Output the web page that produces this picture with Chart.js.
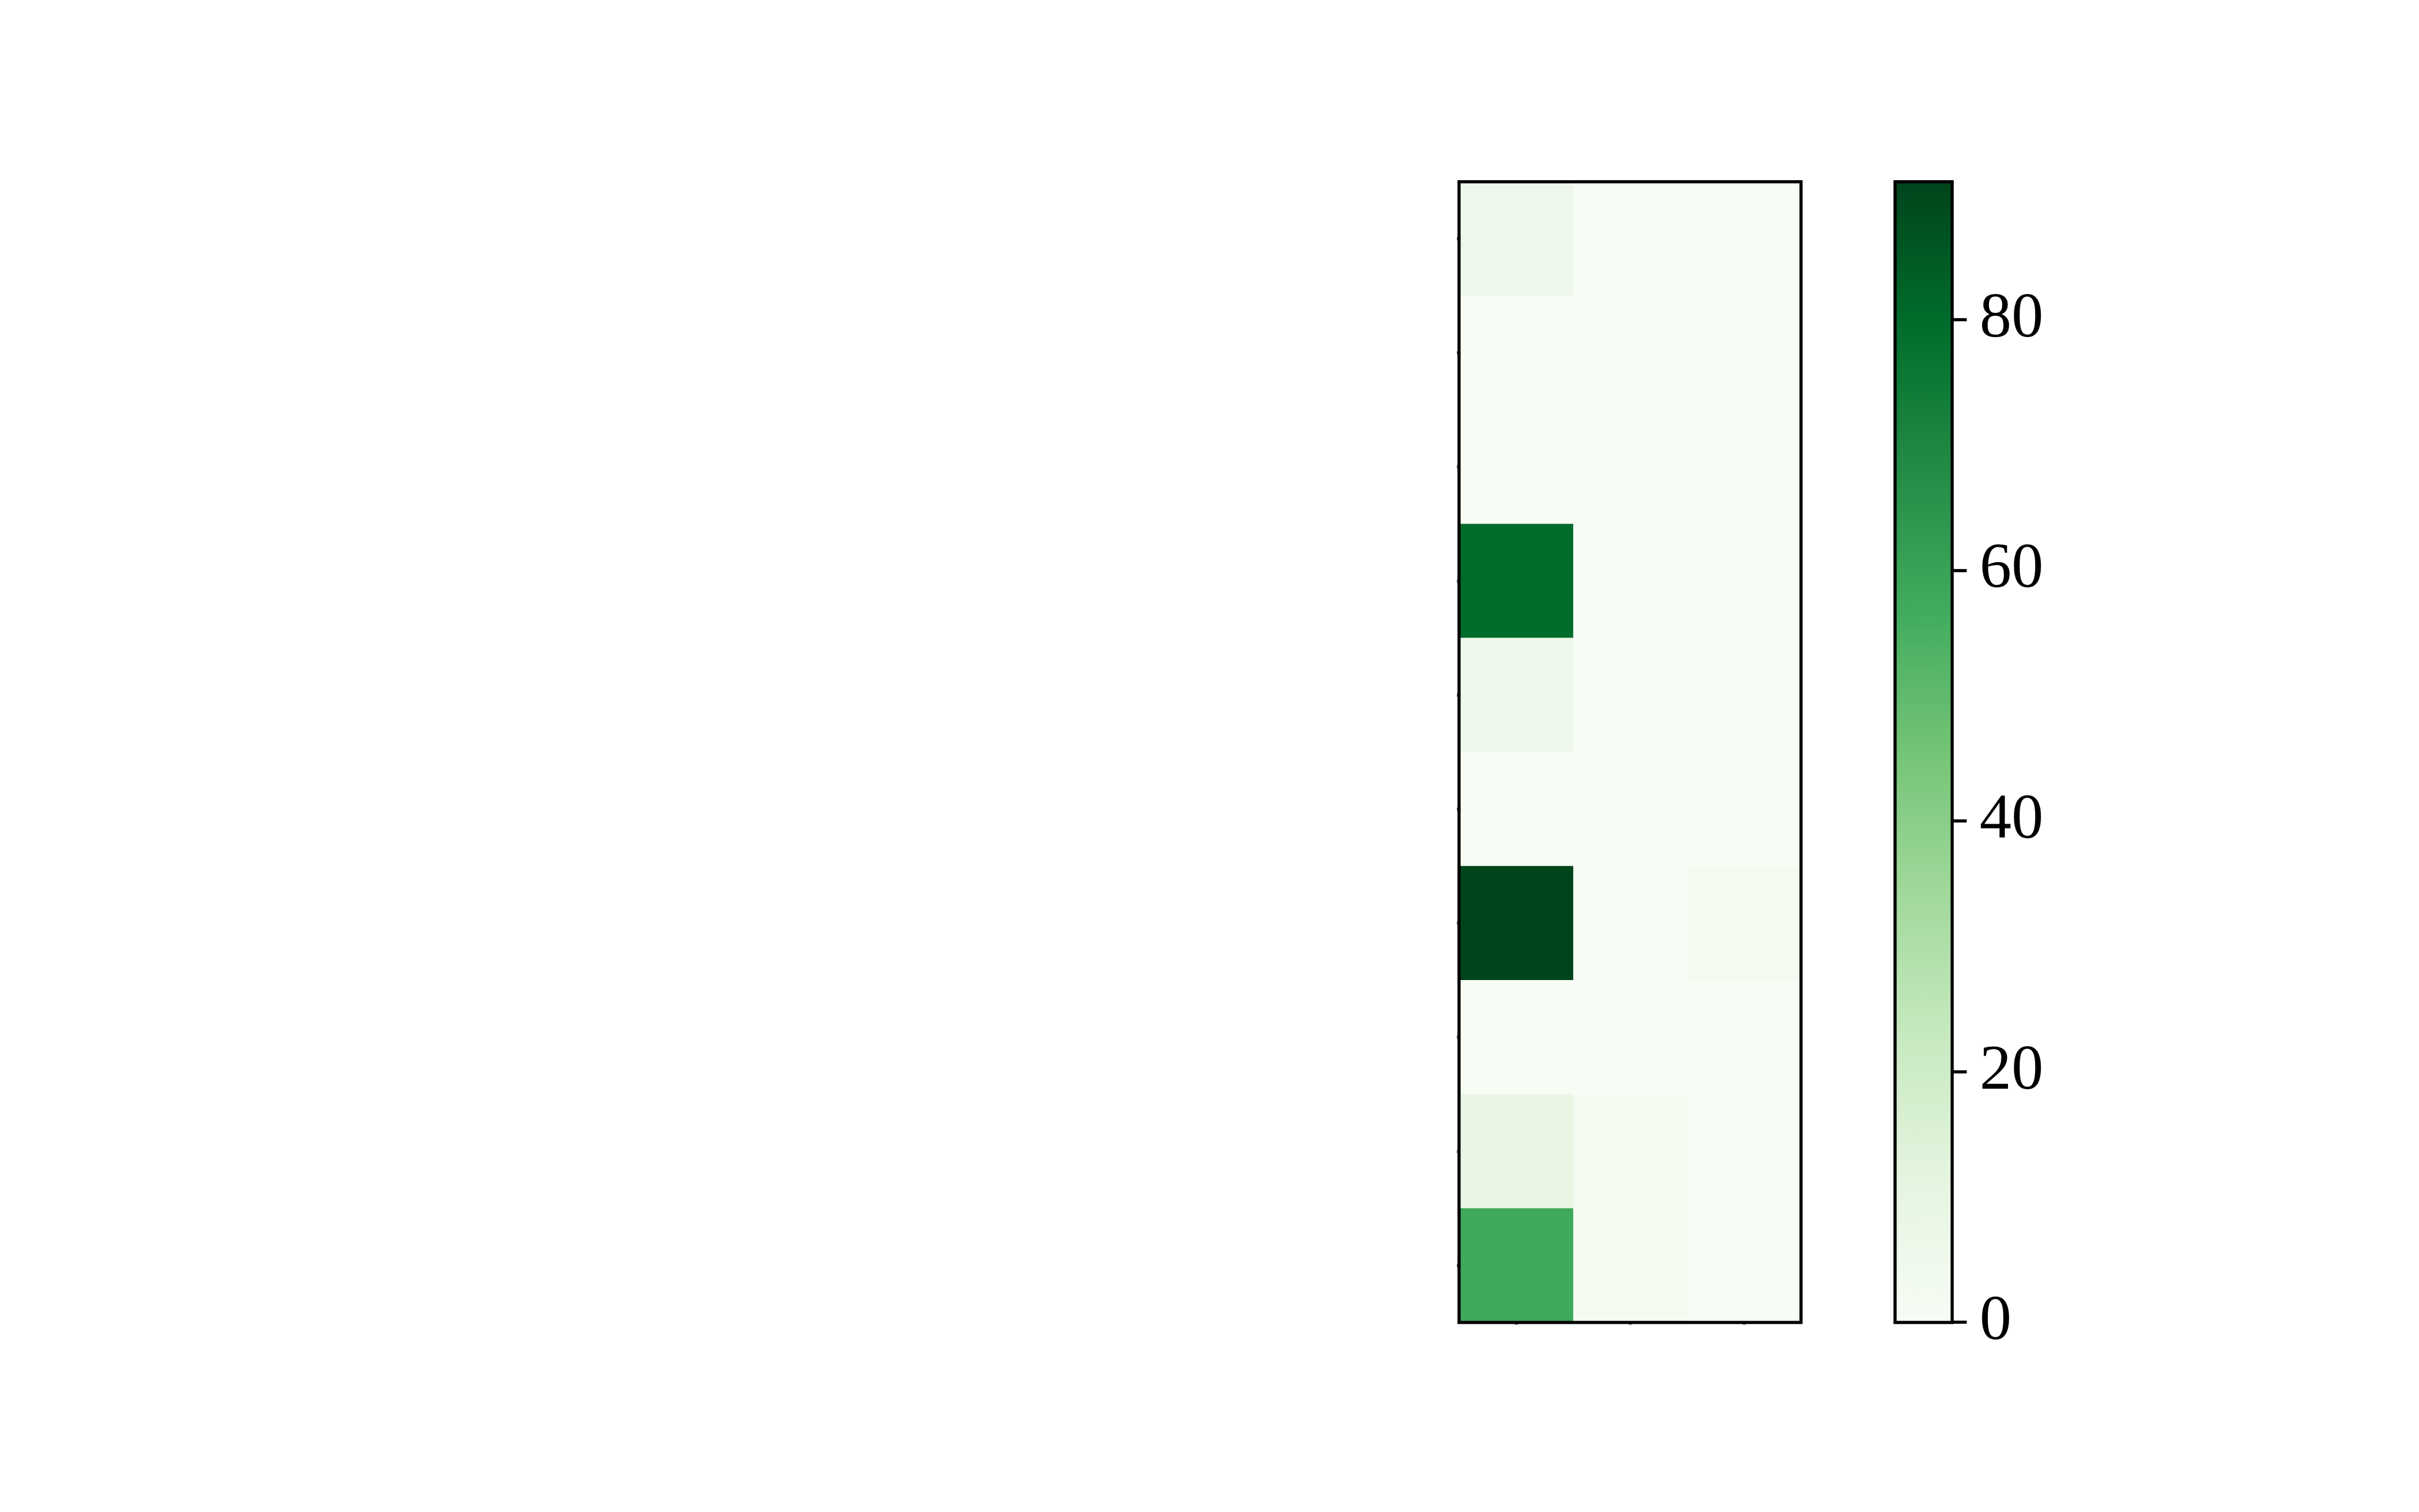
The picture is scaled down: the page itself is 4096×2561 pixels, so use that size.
<!DOCTYPE html>
<html>
<head>
<meta charset="utf-8">
<script src="https://cdn.jsdelivr.net/npm/chart.js@4/dist/chart.umd.min.js"></script>
<style>
html,body{margin:0;padding:0;background:#ffffff;overflow:hidden;width:4096px;height:2561px}
canvas{position:absolute;left:0;top:0}
</style>
</head>
<body>
<canvas id="heat" width="4096" height="2561"></canvas>
<canvas id="cbar" width="4096" height="2561"></canvas>
<script>
// ---- data ----
const rowLabels = ['0','1','2','3','4','5','6','7','8','9'];
const colLabels = ['0','1','2'];
const col0Values = [6, 0, 0, 80, 6, 0, 91, 0, 9, 58];
const col1Values = [0, 0, 0, 0, 0, 0, 0, 0, 2, 2.5];
const col2Values = [0, 0, 0, 0, 0, 0, 2.5, 0, 0, 0];
const colorbarTicks = [0, 20, 40, 60, 80];

// ---- style ----
const S = 0.822;
const LW = 6.5 * S;
const FONT = "'Liberation Serif', 'Times New Roman', serif";
const greens = [
  [247,252,245],[229,245,224],[199,233,192],[161,217,155],[116,196,118],
  [65,171,93],[35,139,69],[0,109,44],[0,68,27]
];
function rgb(c){ return 'rgb(' + c.map(v => Math.round(v)).join(',') + ')'; }
function cmap(t){
  t = Math.max(0, Math.min(1, t));
  const p = t * (greens.length - 1);
  const i = Math.min(Math.floor(p), greens.length - 2);
  const f = p - i;
  const a = greens[i], b = greens[i + 1];
  return rgb([0,1,2].map(k => a[k] + (b[k] - a[k]) * f));
}

const columns = [col0Values, col1Values, col2Values];
const allValues = columns.flat();
const vmin = 0;
const vmax = Math.max(...allValues);

const framePlugin = {
  id: 'frame',
  afterDraw(chart){
    const {ctx, chartArea: a} = chart;
    ctx.save();
    ctx.strokeStyle = '#000';
    ctx.lineWidth = LW;
    ctx.strokeRect(a.left, a.top, a.right - a.left, a.bottom - a.top);
    ctx.restore();
  }
};

// heatmap area (window px)
const H = {left: 3005.5 * S, right: 3710 * S, top: 374.5 * S, bottom: 2725 * S};
const W = 4096, HT = 2561;

new Chart(document.getElementById('heat'), {
  type: 'bar',
  data: {
    labels: rowLabels,
    datasets: columns.map((vals, i) => ({
      label: colLabels[i],
      data: vals.map(() => 1),
      backgroundColor: vals.map(v => cmap((v - vmin) / (vmax - vmin))),
      borderWidth: 0,
      barPercentage: 1,
      categoryPercentage: 1
    }))
  },
  options: {
    indexAxis: 'y',
    responsive: false,
    animation: false,
    devicePixelRatio: 1,
    events: [],
    layout: {padding: {left: H.left, right: W - H.right, top: H.top, bottom: HT - H.bottom}},
    plugins: {legend: {display: false}, tooltip: {enabled: false}},
    scales: {
      x: {
        type: 'linear', stacked: true, min: 0, max: colLabels.length, position: 'bottom',
        afterBuildTicks: s => { s.ticks = colLabels.map((_, i) => ({value: i + 0.5})); },
        afterFit: s => { s.height = 0; },
        ticks: {display: false},
        border: {display: false},
        grid: {drawOnChartArea: false, tickLength: 4.5 * S, tickWidth: LW, tickColor: '#555'}
      },
      y: {
        type: 'category', stacked: true, position: 'left',
        afterFit: s => { s.width = 0; },
        ticks: {display: false},
        border: {display: false},
        grid: {offset: false, drawOnChartArea: false, tickLength: 4.5 * S, tickWidth: LW, tickColor: '#555'}
      }
    }
  },
  plugins: [framePlugin]
});

// colorbar area (window px)
const C = {left: 3903.7 * S, right: 4021.3 * S, top: 374.5 * S, bottom: 2725 * S};
const axisW = 300;

new Chart(document.getElementById('cbar'), {
  type: 'bar',
  data: {
    labels: [''],
    datasets: [{
      data: [[vmin, vmax]],
      backgroundColor: (ctx) => {
        const chart = ctx.chart;
        if (!chart.chartArea) return cmap(0);
        const y = chart.scales.y;
        const g = chart.ctx.createLinearGradient(0, y.getPixelForValue(vmin), 0, y.getPixelForValue(vmax));
        greens.forEach((c, i) => g.addColorStop(i / (greens.length - 1), rgb(c)));
        return g;
      },
      borderWidth: 0,
      barPercentage: 1,
      categoryPercentage: 1
    }]
  },
  options: {
    responsive: false,
    animation: false,
    devicePixelRatio: 1,
    events: [],
    layout: {padding: {left: C.left, right: W - C.right - axisW, top: C.top, bottom: HT - C.bottom}},
    plugins: {legend: {display: false}, tooltip: {enabled: false}},
    scales: {
      x: {display: false},
      y: {
        type: 'linear', position: 'right', min: vmin, max: vmax,
        afterBuildTicks: s => { s.ticks = colorbarTicks.map(v => ({value: v})); },
        afterFit: s => { s.width = axisW; },
        ticks: {
          color: '#000',
          padding: 21.9,
          font: {family: FONT, size: 108},
          callback: v => String(v)
        },
        border: {display: false},
        grid: {drawOnChartArea: false, tickLength: 24.7, tickWidth: LW, tickColor: '#000'}
      }
    }
  },
  plugins: [framePlugin]
});
</script>
</body>
</html>
